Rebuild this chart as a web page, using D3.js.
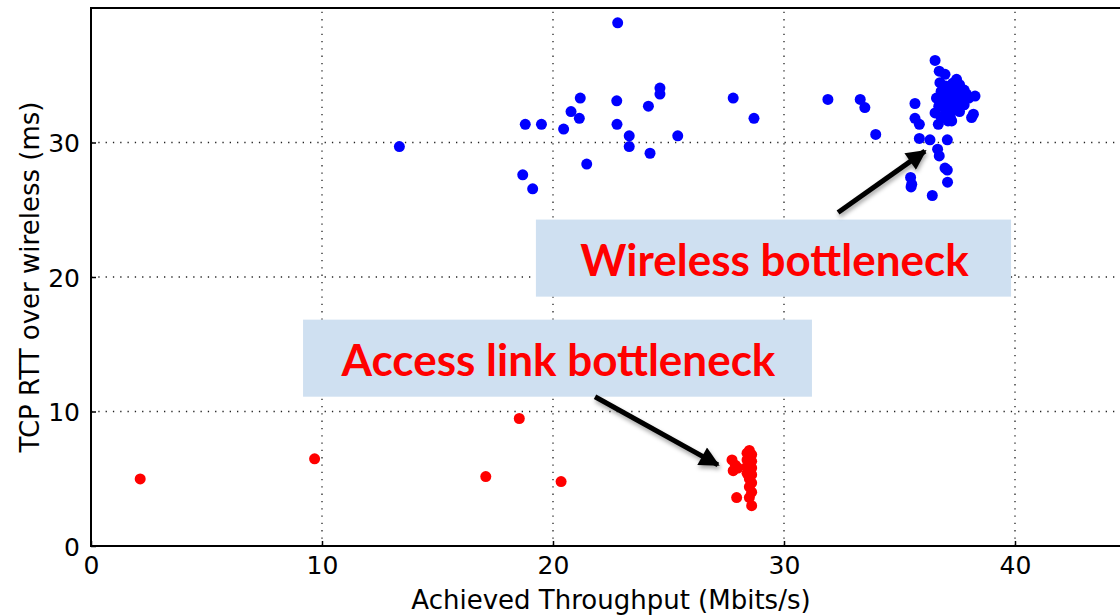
<!DOCTYPE html>
<html>
<head>
<meta charset="utf-8">
<script src="https://cdn.jsdelivr.net/npm/d3@7"></script>
<style>
  body { margin: 0; background: #fff; }
  svg { display: block; }
</style>
</head>
<body>
<svg id="chart"></svg>
<script>
// tick values
const xTicks = [0, 10, 20, 30, 40];
const yTicks = [0, 10, 20, 30];

// wireless bottleneck runs (blue)
const blueX = [13.35, 18.8, 19.5, 18.69, 19.12, 20.46, 20.78, 21.14, 21.18, 21.46,
  22.76, 22.77, 23.3, 23.3, 24.13, 24.2, 24.63, 24.63, 25.4, 22.8,
  27.8, 28.7, 31.9, 33.3, 33.5, 33.97,
  36.54, 36.72, 36.97, 37.47, 36.75, 38.27, 35.67, 35.67, 35.86, 36.54,
  36.68, 37.26, 38.2, 38.12, 35.86, 36.32, 37.07, 36.65, 36.72, 36.97,
  37.07, 37.08, 35.48, 35.53, 35.5, 36.42,
  37.0, 37.3, 37.6, 37.8, 36.8, 37.1, 37.4, 37.7, 38.0, 36.9,
  37.2, 37.5, 37.8, 36.7, 37.0, 37.3, 37.6, 36.9, 37.2, 37.5,
  37.0, 37.4, 36.6, 37.9, 37.3, 37.6, 37.1, 36.8];
const blueY = [29.7, 31.35, 31.35, 27.6, 26.56, 31.0, 32.3, 31.8, 33.3, 28.4,
  33.1, 31.35, 30.5, 29.7, 32.7, 29.2, 34.05, 33.6, 30.5, 38.9,
  33.3, 31.8, 33.2, 33.2, 32.6, 30.6,
  36.1, 35.3, 35.07, 34.7, 34.45, 33.45, 32.9, 31.8, 31.35, 32.2,
  31.35, 31.6, 32.1, 31.85, 30.3, 30.2, 30.2, 29.5, 29.0, 28.1,
  27.95, 27.05, 27.4, 26.9, 26.7, 26.06,
  34.2, 34.0, 34.3, 33.9, 33.8, 33.6, 33.5, 33.4, 33.3, 33.2,
  33.0, 32.9, 32.8, 32.7, 32.5, 32.4, 32.3, 32.0, 31.9, 33.8,
  33.0, 32.7, 33.3, 33.6, 34.4, 33.0, 31.6, 31.9];

// access link bottleneck runs (red)
const redX = [2.13, 9.68, 17.09, 18.54, 20.35,
  27.75, 27.9, 27.8, 28.0, 27.95,
  28.5, 28.4, 28.6, 28.5, 28.4, 28.6, 28.5, 28.4, 28.6, 28.5,
  28.4, 28.6, 28.5, 28.6, 28.5, 28.6, 28.5, 28.6];
const redY = [4.99, 6.48, 5.16, 9.48, 4.79,
  6.4, 6.0, 5.6, 5.8, 3.6,
  7.1, 6.9, 6.8, 6.6, 6.4, 6.3, 6.1, 5.9, 5.8, 5.6,
  5.4, 5.3, 5.0, 4.7, 4.4, 4.0, 3.6, 3.0];

// callouts, in data units
const labels = ['Wireless bottleneck', 'Access link bottleneck'];
const boxX0 = [19.26, 9.18], boxX1 = [39.83, 31.21];
const boxY0 = [24.27, 16.83], boxY1 = [18.54, 11.1];
const arrowFromX = [32.34, 21.82], arrowFromY = [24.8, 11.1];
const arrowToX = [36.1, 27.14], arrowToY = [29.36, 6.03];

const width = 1120, height = 615;
const margin = { top: 8, left: 91, bottom: 69 };

const svg = d3.select('#chart')
    .attr('width', width)
    .attr('height', height);

const x = d3.scaleLinear()
    .domain([0, 45])
    .range([margin.left, margin.left + 45 * 23.1]);

const y = d3.scaleLinear()
    .domain([0, 40])
    .range([height - margin.bottom, margin.top]);

const defs = svg.append('defs');
defs.append('filter')
    .attr('id', 'shadow')
    .attr('x', '-20%').attr('y', '-20%').attr('width', '140%').attr('height', '140%')
  .append('feDropShadow')
    .attr('dx', 1).attr('dy', 3).attr('stdDeviation', 2)
    .attr('flood-color', '#000').attr('flood-opacity', 0.35);
defs.append('marker')
    .attr('id', 'head')
    .attr('viewBox', '0 0 10 10')
    .attr('refX', 9).attr('refY', 5)
    .attr('markerWidth', 4.2).attr('markerHeight', 4)
    .attr('markerUnits', 'strokeWidth')
    .attr('orient', 'auto')
  .append('path')
    .attr('d', 'M0,0 L10,5 L0,10 z')
    .attr('fill', '#000');

// grid
const grid = svg.append('g').attr('stroke', '#222').attr('stroke-width', 1.3)
    .attr('stroke-dasharray', '1.3,6');
grid.selectAll('.gx').data(xTicks.filter(d => d > 0)).join('line')
    .attr('x1', d => x(d)).attr('x2', d => x(d))
    .attr('y1', y(0)).attr('y2', y(40));
grid.selectAll('.gy').data(yTicks.filter(d => d > 0)).join('line')
    .attr('y1', d => y(d)).attr('y2', d => y(d))
    .attr('x1', x(0)).attr('x2', x(45));

// points
svg.append('g').selectAll('circle').data(blueX).join('circle')
    .attr('cx', d => x(d))
    .attr('cy', (d, i) => y(blueY[i]))
    .attr('r', 5.5)
    .attr('fill', '#0000ff');

svg.append('g').selectAll('circle').data(redX).join('circle')
    .attr('cx', d => x(d))
    .attr('cy', (d, i) => y(redY[i]))
    .attr('r', 5.5)
    .attr('fill', '#ff0000');

// axes
const xAxis = d3.axisBottom(x).tickValues(xTicks).tickSizeInner(-5).tickSizeOuter(0).tickPadding(10);
const gx = svg.append('g')
    .attr('transform', `translate(0, ${y(0)})`)
    .call(xAxis);
const yAxis = d3.axisLeft(y).tickValues(yTicks).tickSizeInner(-5).tickSizeOuter(0).tickPadding(11);
const gy = svg.append('g')
    .attr('transform', `translate(${x(0)}, 0)`)
    .call(yAxis);
[gx, gy].forEach(g => {
    g.selectAll('text')
        .attr('font-family', 'DejaVu Sans')
        .attr('font-size', 25)
        .attr('fill', '#000');
    g.selectAll('line').attr('stroke', '#000').attr('stroke-width', 1.5);
    g.select('.domain').remove();
});
gy.selectAll('text').attr('dy', '0.36em');

// frame
svg.append('path')
    .attr('d', `M${x(45)},${y(40)} H${x(0)} V${y(0)} H${x(45)}`)
    .attr('fill', 'none')
    .attr('stroke', '#000')
    .attr('stroke-width', 2);

// axis titles
svg.append('text')
    .attr('x', 611).attr('y', 609)
    .attr('text-anchor', 'middle')
    .attr('font-family', 'DejaVu Sans').attr('font-size', 26)
    .text('Achieved Throughput (Mbits/s)');
svg.append('text')
    .attr('transform', `translate(39, ${y(20)}) rotate(-90)`)
    .attr('text-anchor', 'middle')
    .attr('font-family', 'DejaVu Sans').attr('font-size', 26)
    .text('TCP RTT over wireless (ms)');

// callout boxes
const notes = svg.append('g').selectAll('g').data(labels).join('g');
notes.append('rect')
    .attr('x', (d, i) => x(boxX0[i]))
    .attr('y', (d, i) => y(boxY0[i]))
    .attr('width', (d, i) => x(boxX1[i]) - x(boxX0[i]))
    .attr('height', (d, i) => y(boxY1[i]) - y(boxY0[i]))
    .attr('fill', '#cfe0f1');
notes.append('text')
    .attr('x', (d, i) => (x(boxX0[i]) + x(boxX1[i])) / 2 + 1)
    .attr('y', (d, i) => (y(boxY0[i]) + y(boxY1[i])) / 2 + 18)
    .attr('text-anchor', 'middle')
    .attr('font-family', 'Lato, "Open Sans", sans-serif')
    .attr('font-weight', 'bold')
    .attr('font-size', 44)
    .attr('fill', '#ff0000')
    .text(d => d);

// arrows
svg.append('g').selectAll('line').data(arrowFromX).join('line')
    .attr('x1', d => x(d))
    .attr('y1', (d, i) => y(arrowFromY[i]))
    .attr('x2', (d, i) => x(arrowToX[i]))
    .attr('y2', (d, i) => y(arrowToY[i]))
    .attr('stroke', '#000')
    .attr('stroke-width', 5)
    .attr('marker-end', 'url(#head)')
    .attr('filter', 'url(#shadow)');
</script>
</body>
</html>
